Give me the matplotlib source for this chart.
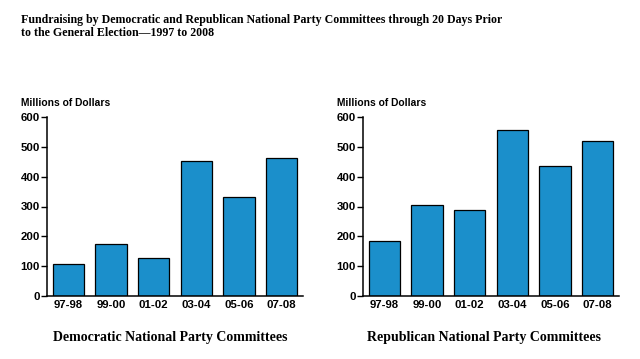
import matplotlib.pyplot as plt
import numpy as np

periods = ['97-98', '99-00', '01-02', '03-04', '05-06', '07-08']
dem_values = [107, 173, 127, 451, 332, 463]
rep_values = [184, 304, 289, 555, 435, 518]
yticks = [0, 100, 200, 300, 400, 500, 600]

bar_color = '#1b8fcb'
sans = ['Liberation Sans', 'DejaVu Sans']
serif = ['Liberation Serif', 'DejaVu Serif']

fig = plt.figure(figsize=(6.4, 3.59), dpi=100)
W, H = 640, 359

def make_axes(left_px, right_px, top_px, bottom_px):
    return fig.add_axes([left_px / W, 1 - bottom_px / H,
                         (right_px - left_px) / W, (bottom_px - top_px) / H])

def draw_panel(ax, values, caption, cap_x):
    x = np.arange(len(periods))
    ax.bar(x, values, width=0.73, color=bar_color, edgecolor='black', linewidth=0.9)
    ax.set_xlim(-0.5, len(periods) - 0.5)
    ax.set_ylim(0, 600)
    ax.set_yticks(yticks)
    ax.set_xticks(x)
    ax.set_xticklabels(periods)
    for s in ['top', 'right']:
        ax.spines[s].set_visible(False)
    for s in ['left', 'bottom']:
        ax.spines[s].set_linewidth(1.1)
    ax.tick_params(axis='y', length=4, width=1.0, pad=1, labelsize=8.2)
    ax.tick_params(axis='x', length=0, pad=3, labelsize=8.2)
    for lbl in ax.get_xticklabels() + ax.get_yticklabels():
        lbl.set_fontweight('bold')
        lbl.set_family(sans)
    ax.text(-0.1, 1.08, 'Millions of Dollars', transform=ax.transAxes,
            fontsize=7.4, fontweight='bold', family=sans, ha='left', va='center')
    fig.text(cap_x / W, 1 - 338 / H, caption, ha='center', va='center',
             fontsize=10, fontweight='bold', family=serif)

ax1 = make_axes(47, 303, 117, 296)
draw_panel(ax1, dem_values, 'Democratic National Party Committees', 170)
ax2 = make_axes(363, 619, 117, 296)
draw_panel(ax2, rep_values, 'Republican National Party Committees', 484)

fig.text(21 / W, 1 - 36 / H,
         'Fundraising by Democratic and Republican National Party Committees through 20 Days Prior\n'
         'to the General Election\u20141997 to 2008',
         ha='left', va='baseline', fontsize=8.6, fontweight='bold', family=serif, linespacing=1.15)

fig.savefig('out.png', dpi=100)
